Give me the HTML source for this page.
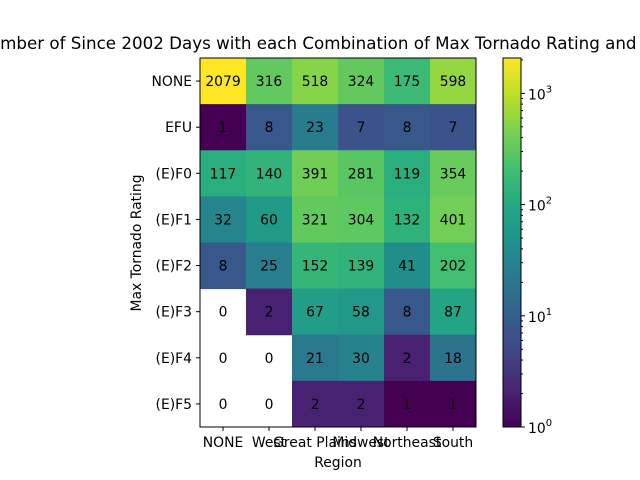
<!DOCTYPE html>
<html><head><meta charset="utf-8"><style>body{margin:0;background:#fff}svg{display:block}</style></head>
<body>
<svg id="c" width="640" height="480" xmlns="http://www.w3.org/2000/svg" font-family="DejaVu Sans, Liberation Sans, sans-serif"></svg>
<script>
const regions = ["NONE","West","Great Plains","Midwest","Northeast","South"];
const ratings = ["NONE","EFU","(E)F0","(E)F1","(E)F2","(E)F3","(E)F4","(E)F5"];
const row0 = [2079,316,518,324,175,598];
const row1 = [1,8,23,7,8,7];
const row2 = [117,140,391,281,119,354];
const row3 = [32,60,321,304,132,401];
const row4 = [8,25,152,139,41,202];
const row5 = [0,2,67,58,8,87];
const row6 = [0,0,21,30,2,18];
const row7 = [0,0,2,2,1,1];
const counts = [row0,row1,row2,row3,row4,row5,row6,row7];
const cbTicks = [0,1,2,3];

const NS="http://www.w3.org/2000/svg", svg=document.getElementById('c');
function mk(t,a,p){const e=document.createElementNS(NS,t);for(const k in a)e.setAttribute(k,a[k]);(p||svg).appendChild(e);return e;}
const X0=200,X1=476,Y0=58,Y1=427;
const FS=13.9;
const vmax=Math.max(...counts.flat()), lmax=Math.log10(vmax);
const cw=(X1-X0)/regions.length, ch=(Y1-Y0)/ratings.length;
const xc=i=>X0+cw*(i+0.5), yc=j=>Y0+ch*(j+0.5);
const vir=["#440154","#482475","#414487","#355f8d","#2a788e","#21918c","#22a884","#44bf70","#7ad151","#bddf26","#fde725"];
function hx(h){return [1,3,5].map(i=>parseInt(h.substr(i,2),16));}
function cmap(t){t=Math.max(0,Math.min(1,t));const s=t*10,i=Math.min(9,Math.floor(s)),f=s-i;const a=hx(vir[i]),b=hx(vir[i+1]);return `rgb(${a.map((v,k)=>Math.round(v+(b[k]-v)*f)).join(',')})`;}
const norm=v=>Math.log10(v)/lmax;
counts.forEach((row,j)=>row.forEach((v,i)=>{
  if(v>0){const r=mk('rect',{x:X0+cw*i,y:Y0+ch*j,width:cw+0.5,height:ch+0.5,fill:cmap(norm(v))});
  
  }
  const t=mk('text',{x:xc(i),y:yc(j)+5,'text-anchor':'middle','font-size':FS,fill:'#000'});t.textContent=v;
  
  
}));
mk('rect',{x:X0,y:Y0,width:X1-X0,height:Y1-Y0,fill:'none',stroke:'#000','stroke-width':1,});
regions.forEach((r,i)=>{mk('line',{x1:xc(i),x2:xc(i),y1:Y1,y2:Y1+4,stroke:'#000'});const t=mk('text',{x:xc(i),y:Y1+20,'text-anchor':'middle','font-size':FS});t.textContent=r;
});
ratings.forEach((r,j)=>{mk('line',{x1:X0-4,x2:X0,y1:yc(j),y2:yc(j),stroke:'#000'});const t=mk('text',{x:X0-8,y:yc(j)+5,'text-anchor':'end','font-size':FS});t.textContent=r;
});
let t=mk('text',{x:338,y:467,'text-anchor':'middle','font-size':FS,});t.textContent='Region';
t=mk('text',{x:141,y:243,'text-anchor':'middle','font-size':FS,transform:'rotate(-90 141 243)',});t.textContent='Max Tornado Rating';
t=mk('text',{x:338,y:49,'text-anchor':'middle','font-size':16.7,});t.textContent='Number of Since 2002 Days with each Combination of Max Tornado Rating and Region';
const CX=503,CW=18;
const defs=mk('defs',{});const g=mk('linearGradient',{id:'vg',x1:0,y1:1,x2:0,y2:0},defs);
vir.forEach((c,k)=>mk('stop',{offset:k/10,'stop-color':c},g));
mk('rect',{x:CX,y:Y0,width:CW,height:Y1-Y0,fill:'url(#vg)',stroke:'#000','stroke-width':1,});
const cy=v=>Y1-(Math.log10(v)/lmax)*(Y1-Y0);
cbTicks.forEach(p=>{const y=cy(Math.pow(10,p));mk('line',{x1:CX+CW,x2:CX+CW+4,y1:y,y2:y,stroke:'#000'});
 const tt=mk('text',{x:CX+CW+7,y:y+6,'font-size':FS});
 tt.innerHTML='10<tspan dy="-7" font-size="10">'+p+'</tspan>';
 for(let m=2;m<10;m++){const v=m*Math.pow(10,p);if(v<=vmax){const yy=cy(v);mk('line',{x1:CX+CW,x2:CX+CW+2,y1:yy,y2:yy,stroke:'#000'});}}
});
</script>
</body></html>
